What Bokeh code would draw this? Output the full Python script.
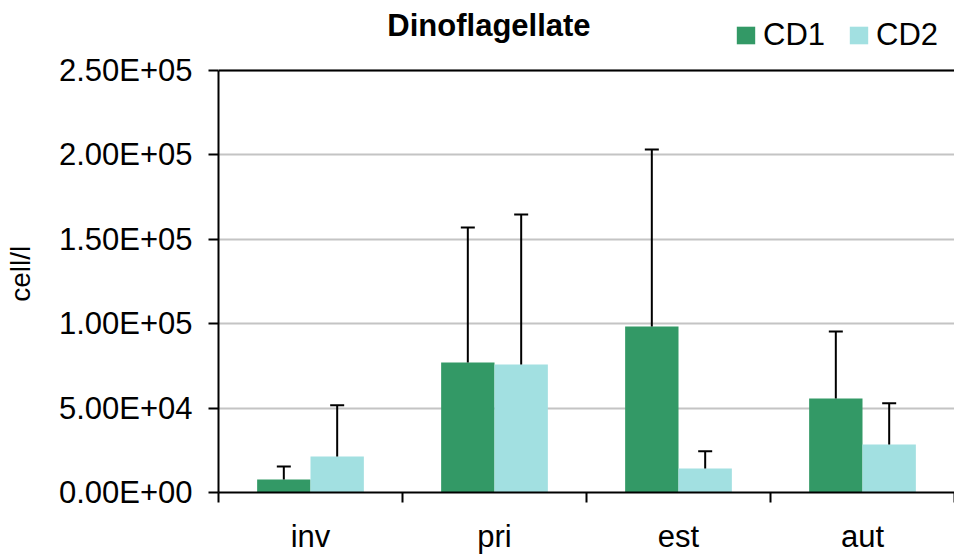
from bokeh.plotting import figure
from bokeh.models import (ColumnDataSource, Range1d, FixedTicker, Whisker, TeeHead,
                          Span, Label, Legend, LegendItem)
from bokeh.embed import file_html
from bokeh.resources import INLINE

# ---- data ----
categories = ["inv", "pri", "est", "aut"]
cd1_mean = [7700, 77000, 98300, 55700]
cd1_sd = [7700, 80000, 104900, 39700]
cd2_mean = [21300, 75800, 14200, 28400]
cd2_sd = [30400, 88900, 10300, 24500]
y_ticks = [0, 50000, 100000, 150000, 200000, 250000]
y_tick_labels = ["0.00E+00", "5.00E+04", "1.00E+05", "1.50E+05", "2.00E+05", "2.50E+05"]
series_names = ["CD1", "CD2"]
colors = ["#339966", "#a2e0e1"]
title_text = "Dinoflagellate"
y_label = "cell/l"

FONT = "Liberation Sans"
bar_w = 0.29
y_axis_max = 250000
y_view_max = 291470   # extra headroom above the axis for title and legend

p = figure(width=954, height=556, output_backend="svg", toolbar_location=None,
           x_range=Range1d(0, len(categories)), y_range=Range1d(0, y_view_max),
           min_border_left=218, min_border_right=0, min_border_top=0, min_border_bottom=64)
p.outline_line_color = None
p.background_fill_color = "white"
p.border_fill_color = "white"

renderers = []
for k, (means, sds) in enumerate([(cd1_mean, cd1_sd), (cd2_mean, cd2_sd)]):
    off = -bar_w / 2 if k == 0 else bar_w / 2
    xs = [i + 0.5 + off for i in range(len(categories))]
    src = ColumnDataSource(dict(x=xs, top=means, upper=[m + s for m, s in zip(means, sds)]))
    r = p.vbar(x="x", top="top", width=bar_w, source=src, fill_color=colors[k], line_color=None)
    renderers.append(r)
    w = Whisker(base="x", lower="top", upper="upper", source=src, dimension="height",
                line_color="black", line_width=2, lower_head=None,
                upper_head=TeeHead(size=14, line_color="black", line_width=2), level="overlay")
    p.add_layout(w)

# top border line of the plot area
p.add_layout(Span(location=y_axis_max, dimension="width", line_color="black", line_width=2))

# grid
p.xgrid.visible = False
p.ygrid.ticker = FixedTicker(ticks=y_ticks)
p.ygrid.grid_line_color = "#c4c4c4"
p.ygrid.grid_line_width = 2

# y axis
yax = p.yaxis[0]
yax.bounds = (0, y_axis_max)
yax.ticker = FixedTicker(ticks=y_ticks)
yax.major_label_overrides = dict(zip(y_ticks, y_tick_labels))
yax.major_label_text_font = FONT
yax.major_label_text_font_size = "31px"
yax.major_label_text_color = "black"
yax.major_tick_out = 10
yax.major_tick_in = 0
yax.major_tick_line_width = 2
yax.major_tick_line_color = "black"
yax.minor_tick_line_color = None
yax.axis_line_color = "black"
yax.axis_line_width = 2
yax.major_label_standoff = 16
# non-breaking spaces shift the label's visible part down to where the original sits
yax.axis_label = y_label + "\u00a0" * 7
yax.axis_label_text_font = FONT
yax.axis_label_text_font_size = "28px"
yax.axis_label_text_font_style = "normal"
yax.axis_label_text_color = "black"
yax.axis_label_standoff = 20

# x axis
xax = p.xaxis[0]
centers = [i + 0.5 for i in range(len(categories))]
xax.ticker = FixedTicker(ticks=centers, minor_ticks=list(range(len(categories) + 1)))
xax.major_label_overrides = dict(zip(centers, categories))
xax.major_label_text_font = FONT
xax.major_label_text_font_size = "31px"
xax.major_label_text_color = "black"
xax.major_label_text_line_height = 1.0
xax.major_tick_line_color = None
xax.major_tick_out = 0
xax.major_tick_in = 0
xax.minor_tick_line_color = "black"
xax.minor_tick_line_width = 2
xax.minor_tick_out = 10
xax.minor_tick_in = 0
xax.axis_line_color = "black"
xax.axis_line_width = 2
xax.major_label_standoff = 16

# title
p.add_layout(Label(x=1.47, y=276600, text=title_text, text_font=FONT,
                   text_font_size="31px", text_font_style="bold", text_align="center",
                   text_baseline="alphabetic", text_color="black"))

# legend
legend = Legend(items=[LegendItem(label=series_names[0], renderers=[renderers[0]]),
                       LegendItem(label=series_names[1], renderers=[renderers[1]])],
                location=(516, 439), orientation="horizontal",
                glyph_width=23, glyph_height=22, label_text_font=FONT,
                label_text_font_size="31px", label_text_color="black",
                label_standoff=6, spacing=22,
                padding=0, margin=0, border_line_color=None, background_fill_alpha=0)
p.add_layout(legend)

open("out.html", "w").write(file_html(p, INLINE))
